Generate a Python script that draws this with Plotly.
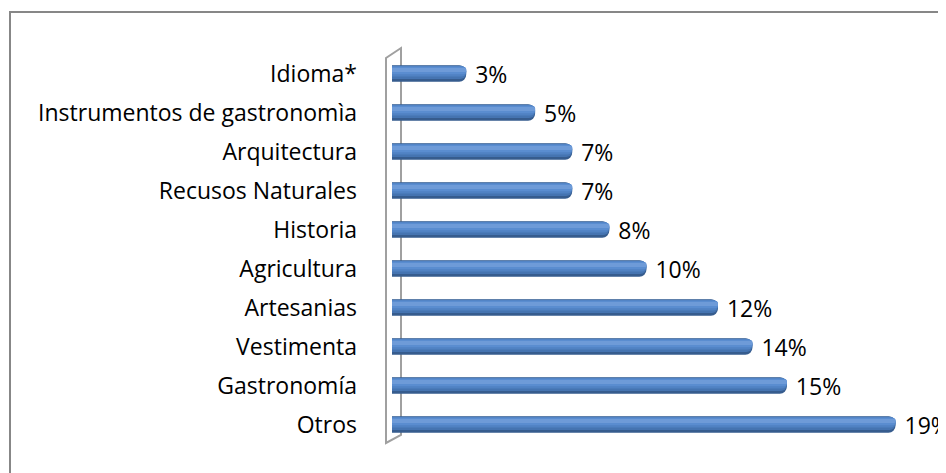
import plotly.graph_objects as go

categories = ["Idioma*", "Instrumentos de gastronomìa", "Arquitectura", "Recusos Naturales",
              "Historia", "Agricultura", "Artesanias", "Vestimenta", "Gastronomía", "Otros"]
values = [2.8, 5.4, 6.8, 6.8, 8.2, 9.6, 12.3, 13.6, 14.9, 19.0]

# page body has an 8px margin; compensate so the picture lines up with the reference
OFF = 8
W_PX, H_PX = 946, 473
L, R, T, B = 392 - OFF, 24 + OFF, 54 - OFF, 29 + OFF
PW, PH = W_PX - L - R, H_PX - T - B

def px(x):
    return (x - OFF - L) / PW

def py(y):
    return 1 - (y - OFF - T) / PH

FONT = "Open Sans"
FS = 23

fig = go.Figure()

layers = [
    # (offset, width, color, cornerradius) -> stacked to fake a cylinder gradient
    (-0.21, 0.42, "#365c8e", 7),
    (-0.20, 0.34, "#4574b1", 6),
    (-0.19, 0.27, "#5082c3", 5),
    (-0.17, 0.19, "#5a8dd0", 4),
    (-0.14, 0.10, "#6e9bd8", 3),
]
for i, (off, wd, col, cr) in enumerate(layers):
    fig.add_trace(go.Bar(
        x=values, y=categories, orientation="h",
        offset=off, width=wd,
        marker=dict(color=col, line=dict(width=0), cornerradius=cr),
        text=["\u00a0" + f"{v:.0f}%" for v in values] if i == 0 else None,
        textposition="outside" if i == 0 else "none",
        textfont=dict(family=FONT, size=FS, color="#000000"),
        constraintext="none",
        cliponaxis=False,
        showlegend=False,
        hoverinfo="skip",
    ))

shapes = [
    # chart border
    dict(type="rect", xref="paper", yref="paper",
         x0=px(10), x1=px(990), y0=py(12), y1=py(520),
         line=dict(color="#878787", width=2), fillcolor="rgba(0,0,0,0)", layer="below"),
    # 3D wall
    dict(type="path", xref="paper", yref="paper",
         path=(f"M {px(386)},{py(443)} L {px(386)},{py(58)} L {px(401)},{py(48)} "
               f"L {px(401)},{py(435)} Z"),
         line=dict(color="#a0a0a0", width=2), fillcolor="rgba(0,0,0,0)", layer="below"),
]

fig.update_layout(
    width=W_PX, height=H_PX,
    margin=dict(l=L, r=R, t=T, b=B, pad=0),
    paper_bgcolor="white", plot_bgcolor="rgba(0,0,0,0)",
    barmode="overlay",
    shapes=shapes,
    font=dict(family=FONT, size=FS, color="#000000"),
    xaxis=dict(range=[0, 20], visible=False, showgrid=False, zeroline=False),
    yaxis=dict(range=[9.5, -0.5], showgrid=False, zeroline=False, showline=False,
               ticks="", ticklabelstandoff=34,
               tickfont=dict(family=FONT, size=FS, color="#000000")),
)

fig.write_html("out.html")
